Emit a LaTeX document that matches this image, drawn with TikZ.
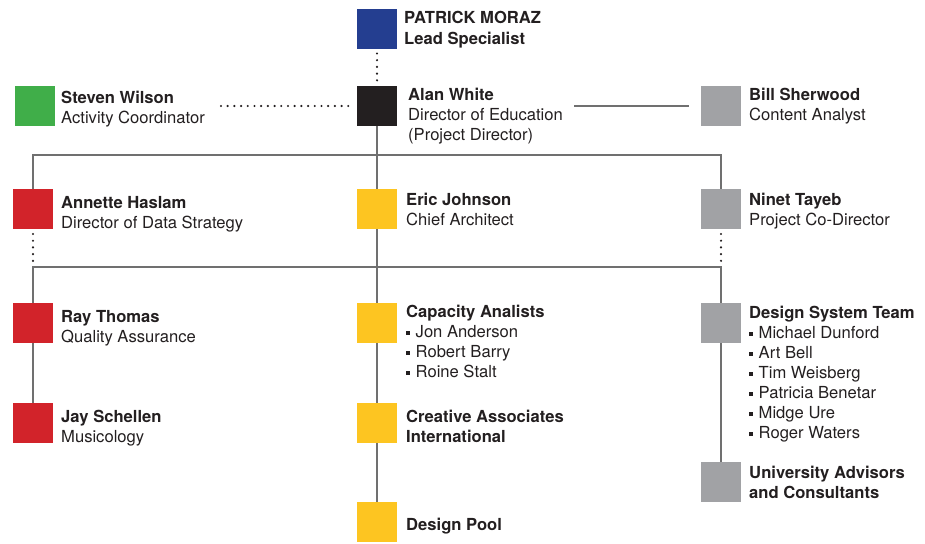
\documentclass[tikz,border=0pt]{standalone}
\usepackage{fontspec}
\setmainfont{TeX Gyre Heros}
\usetikzlibrary{positioning,calc}
\definecolor{leadblue}{RGB}{36,62,144}
\definecolor{coordgreen}{RGB}{64,174,73}
\definecolor{headblack}{RGB}{35,31,32}
\definecolor{staffgray}{RGB}{161,162,165}
\definecolor{datared}{RGB}{210,35,42}
\definecolor{archyellow}{RGB}{253,197,33}
\definecolor{textdark}{RGB}{35,31,32}
\definecolor{linegray}{RGB}{112,112,112}
\newcommand{\sqitem}{\rule[2.5pt]{4pt}{4pt}\hspace{5.5pt}}

\begin{document}
\begin{tikzpicture}[
  x=1pt,y=-1pt,
  sq/.style={minimum size=40pt,inner sep=0pt,outer sep=0pt},
  txt/.style={anchor=north west,align=left,inner sep=0pt,text=textdark,yshift=-2.5pt,
    font=\fontsize{16.6}{20.1}\selectfont,execute at begin node=\strut},
  link/.style={draw=linegray,line width=1.3pt},
  dotline/.style={draw=textdark,line width=2.4pt,line cap=round,dash pattern=on 0pt off 6.7pt}
]
\useasboundingbox (0,0) rectangle (925,543);

% -------------------------------------------------------------------------
% top: lead, director and staff
% -------------------------------------------------------------------------
\node[sq,fill=leadblue] (lead) at (377,29) {};
\node[txt] (leadtxt) at ([xshift=7pt]lead.north east)
  {\textbf{PATRICK MORAZ}\\\textbf{Lead Specialist}};

\node[sq,fill=headblack] (alan) at (377,106) {};
\node[txt] (alantxt) at ([xshift=11pt,yshift=1pt]alan.north east)
  {\textbf{Alan White}\\Director of Education\\(Project Director)};

\node[sq,fill=coordgreen] (steven) at (35,106) {};
\node[txt] (steventxt) at ([xshift=6pt,yshift=-2pt]steven.north east)
  {\textbf{Steven Wilson}\\Activity Coordinator};

\node[sq,fill=staffgray] (bill) at (721,106) {};
\node[txt] (billtxt) at ([xshift=8pt,yshift=1pt]bill.north east)
  {\textbf{Bill Sherwood}\\Content Analyst};

\draw[dotline,shorten <=4.5pt,shorten >=4.5pt] (lead.south) -- (alan.north);
\draw[dotline,shorten >=4pt] ([xshift=16pt]steventxt.east |- alan.west) -- (alan.west);
\draw[link,shorten >=12pt] ([xshift=11pt]alantxt.east |- alan.east) -- (bill.west);

% -------------------------------------------------------------------------
% second row
% -------------------------------------------------------------------------
\coordinate (busA) at (377,155);
\coordinate (busB) at (377,267);

\node[sq,fill=datared] (annette) at (33,209) {};
\node[txt] (annettetxt) at ([xshift=8pt,yshift=-5pt]annette.north east)
  {\textbf{Annette Haslam}\\Director of Data Strategy};

\node[sq,fill=archyellow] (eric) at (377,209) {};
\node[txt] (erictxt) at ([xshift=9pt,yshift=-1pt]eric.north east)
  {\textbf{Eric Johnson}\\Chief Architect};

\node[sq,fill=staffgray] (ninet) at (721,209) {};
\node[txt] (ninettxt) at ([xshift=8pt,yshift=-1pt]ninet.north east)
  {\textbf{Ninet Tayeb}\\Project Co-Director};

\draw[link] (annette.north) -- (annette.north |- busA) -- (ninet.north |- busA) -- (ninet.north);
\draw[dotline,shorten <=5pt,shorten >=6pt] (annette.south) -- (annette.south |- busB);
\draw[dotline,shorten <=5pt,shorten >=6pt] (ninet.south) -- (ninet.south |- busB);

% -------------------------------------------------------------------------
% teams
% -------------------------------------------------------------------------
\node[sq,fill=datared] (ray) at (33,323) {};
\node[txt] (raytxt) at ([xshift=8pt,yshift=-5pt]ray.north east)
  {\textbf{Ray Thomas}\\Quality Assurance};

\node[sq,fill=datared] (jay) at (33,423) {};
\node[txt] (jaytxt) at ([xshift=8pt,yshift=-4pt]jay.north east)
  {\textbf{Jay Schellen}\\Musicology};

\node[sq,fill=archyellow] (capacity) at (377,323) {};
\node[txt] (capacitytxt) at ([xshift=9pt,yshift=1pt]capacity.north east)
  {\textbf{Capacity Analists}\\\sqitem Jon Anderson\\\sqitem Robert Barry\\\sqitem Roine Stalt};

\node[sq,fill=archyellow] (creative) at (377,423) {};
\node[txt] (creativetxt) at ([xshift=9pt,yshift=-4pt]creative.north east)
  {\textbf{Creative Associates}\\\textbf{International}};

\node[sq,fill=archyellow] (pool) at (377,522) {};
\node[txt] (pooltxt) at ([xshift=9pt,yshift=-12pt]pool.north east)
  {\textbf{Design Pool}};

\node[sq,fill=staffgray] (design) at (721,323) {};
\node[txt] (designtxt) at ([xshift=8pt,yshift=0pt]design.north east)
  {\textbf{Design System Team}\\\sqitem Michael Dunford\\\sqitem Art Bell\\\sqitem Tim Weisberg\\
   \sqitem Patricia Benetar\\\sqitem Midge Ure\\\sqitem Roger Waters};

\node[sq,fill=staffgray] (univ) at (721,482) {};
\node[txt] (univtxt) at ([xshift=8pt,yshift=-1pt]univ.north east)
  {\textbf{University Advisors}\\\textbf{and Consultants}};

\draw[link] (ray.north) -- (ray.north |- busB) -- (design.north |- busB) -- (design.north);
\draw[link] (ray.south) -- (jay.north);
\draw[link] (design.south) -- (univ.north);
\foreach \a/\b in {alan/eric,eric/capacity,capacity/creative,creative/pool}
  {\draw[link] (\a.south) -- (\b.north);}
\end{tikzpicture}
\end{document}
